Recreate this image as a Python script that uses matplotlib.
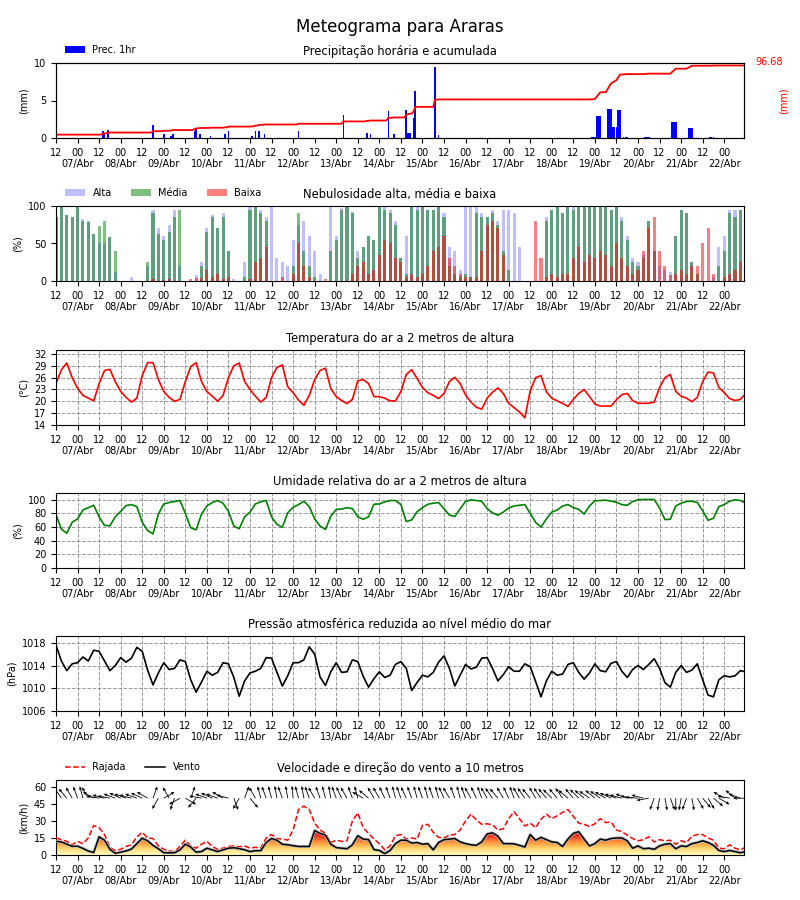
import numpy as np
import matplotlib
matplotlib.use('Agg')
import matplotlib.pyplot as plt
from matplotlib.lines import Line2D
import matplotlib.patheffects as pe

# ---------------- data (3-hourly, hours since 06/Abr 12:00) ----------------
horas = np.arange(0, 385, 3)

temperatura = [24.5, 28, 29.7, 26, 23.3, 21.5, 20.8, 20.1, 24.5, 27.8,
               28.1, 25, 22.5, 21, 19.8, 20.8, 26.5, 29.8, 29.8, 25.5,
               22.5, 21, 20, 20.5, 25, 28.8, 29.8, 25, 22.5, 21.3,
               20, 21.5, 26, 29, 29.7, 25, 23, 21.3, 19.8, 21,
               26, 28.6, 29.2, 23.7, 22.2, 20.3, 19, 21.5, 25.5, 27.8,
               28.4, 23.2, 21.2, 20.2, 19.4, 20.5, 25.2, 25.5, 24.5, 21.2,
               21.2, 20.8, 20.1, 20.1, 22.5, 26.8, 28, 25.8, 23.5, 22.2,
               21.5, 20.7, 22, 25, 26.1, 24.5, 21.6, 19.8, 18.5, 18,
               20.8, 22.3, 23.4, 22, 19.5, 18.4, 17.3, 15.8, 22.7, 26,
               26.5, 22.4, 20.8, 20.1, 19.5, 18.7, 20.5, 22, 23, 21.2,
               19.3, 18.8, 18.8, 18.8, 20.4, 21.7, 22, 20.2, 19.5, 19.5,
               19.5, 19.8, 23.5, 26, 26.8, 22.5, 21.3, 20.8, 19.9, 21,
               25, 27.4, 27.2, 23.5, 22.2, 20.7, 20.2, 20.5, 22]

umidade = [78, 57, 51, 67, 72, 85, 88.5, 92, 75, 62.5,
           62, 75, 83, 91.5, 93, 90, 67, 55, 50, 79,
           94, 96, 97.5, 99, 80, 59, 56, 79, 91, 96,
           99, 95, 83, 61.5, 57.5, 75, 82, 94, 97, 99,
           75, 64, 59.5, 81, 89, 93, 98, 90, 72, 61.5,
           56.5, 76, 86, 86.5, 88.5, 87, 75, 71.5, 75, 93.5,
           94, 97, 99, 99, 93, 68, 70.5, 82.5, 88.5, 93.5,
           95, 96, 87, 77.5, 75.5, 87, 97.5, 100, 99, 98,
           87, 81, 77.5, 82, 88, 91, 92, 93, 80, 67,
           60, 72, 82, 85, 91, 93, 88.5, 86, 79, 91,
           98.5, 99, 99.5, 98, 96.5, 93, 92, 97.5, 100, 100.5,
           100.5, 100.5, 88, 71, 71.5, 91, 95, 97.5, 98, 96,
           84, 70, 73, 90, 93, 98, 100, 99, 95]

pressao = [1017.6, 1014.8, 1013.1, 1014.3, 1014.5, 1015.5, 1014.8, 1016.7, 1016.5, 1014.8,
           1013.1, 1014, 1015.4, 1014.6, 1015.3, 1017.2, 1016.5, 1013.2, 1010.6, 1012.7,
           1014.5, 1013.3, 1013.5, 1015, 1014.7, 1011.5, 1009.3, 1011.1, 1013, 1012.3,
           1012.8, 1014.5, 1014.3, 1011.9, 1008.6, 1011.3, 1012.7, 1013, 1013.5, 1015.4,
           1015.3, 1012.8, 1010.4, 1012.2, 1014.5, 1014.5, 1015, 1017.3, 1016, 1012,
           1010.5, 1012.9, 1014.5, 1012.8, 1012.9, 1015, 1014.7, 1012.1, 1010.2, 1011.7,
           1012.9, 1011.9, 1012.3, 1014.2, 1014.7, 1013.5, 1009.6, 1011, 1012.3, 1012,
           1012.8, 1014.6, 1015.7, 1013.5, 1010.4, 1012.3, 1014.2, 1013.4, 1013.7, 1015.3,
           1015.4, 1013.5, 1011.3, 1012.4, 1013.8, 1013, 1013, 1014.3, 1013.8, 1011.2,
           1008.5, 1011.3, 1013, 1012.3, 1012.5, 1014.2, 1014.5, 1012.8, 1011.6, 1012.7,
           1014.3, 1013.1, 1012.9, 1014.4, 1014.7, 1013, 1011.9, 1013.3, 1014, 1013.3,
           1014.2, 1015.2, 1013.5, 1011, 1010.2, 1012.8, 1014, 1012.8, 1013.2, 1014.3,
           1011.5, 1008.8, 1008.5, 1011.5, 1012.2, 1012, 1012.2, 1013.1, 1012.9]

vento = [12, 11.5, 9.5, 7.6, 7.8, 5.8, 3.5, 2.2, 16, 13,
         5, 1.5, 2.5, 3.6, 5.2, 10, 14.8, 12.5, 8.5, 5.5,
         2, 2, 2, 4.5, 9.5, 7, 2.5, 3, 6, 4.5,
         3, 4.5, 6, 6.4, 5.6, 4.6, 3, 3.8, 3.8, 11,
         14.5, 13, 9.5, 9, 8.2, 7.5, 7.5, 7.5, 21.5, 19,
         17.5, 9.5, 6.5, 6, 5.5, 9, 17, 14, 13.5, 4.8,
         4, 1.2, 4, 10, 13, 13, 10.5, 11, 9.5, 10,
         4.5, 11, 13.5, 14, 14.5, 11.5, 10, 9, 8.5, 11.5,
         18.5, 19.5, 16.5, 10, 10, 9.8, 8.5, 7, 18, 13,
         15.5, 13.5, 11.5, 11, 7.5, 14, 19, 20.5, 14, 8,
         10, 14, 13, 14.5, 15, 15, 12.5, 6, 8, 5.5,
         6, 5, 8, 9.5, 10, 5.5, 8, 7.5, 10, 11,
         12.5, 11, 8.5, 4, 3, 4, 3, 2, 3]

rajada = [15, 13.5, 12, 9, 12, 10, 15, 26, 24, 18,
          6.5, 4, 5, 7.5, 9, 16, 20, 15, 14.5, 8,
          5, 3.5, 3, 7.5, 13, 8, 6, 9.5, 12, 7.5,
          5, 6, 7.5, 8, 7.2, 8, 6, 6.8, 6, 15,
          18, 14.5, 14, 13, 22, 40, 43, 40, 28, 22,
          19, 11, 13, 12, 12.5, 30, 37, 24, 19, 14,
          10, 4.5, 8, 17, 18, 14, 15, 14, 26, 27,
          20, 15.5, 15, 17.5, 18, 22, 30, 36, 31, 27,
          27.5, 26.5, 22, 23, 32, 38, 32, 25.5, 28, 24,
          31.5, 36, 32, 34.5, 37.5, 40, 34, 28, 27, 25,
          27.5, 32, 28.5, 29, 22, 20.5, 17.5, 14.5, 12.5, 13.5,
          16, 11.5, 13.5, 12.5, 13, 9.5, 12.5, 11, 16.5, 18,
          18, 15, 13, 6, 5.5, 9, 6, 4.5, 7]

# wind direction (meteorological, degrees the wind blows from)
direcao = [150, 145, 140, 150, 160, 165, 150, 120, 100, 105,
           100, 110, 115, 110, 105, 110, 115, 120, 200, 30,
           240, 150, 20, 60, 300, 200, 40, 100, 110, 115,
           110, 120, 105, 340, 30, 200, 320, 150, 165, 160,
           165, 170, 160, 170, 175, 165, 170, 160, 150, 160,
           165, 170, 160, 155, 150, 160, 165, 120, 130, 150,
           150, 155, 160, 165, 160, 155, 160, 165, 160, 165,
           160, 165, 155, 150, 160, 165, 160, 150, 155, 160,
           150, 145, 140, 150, 155, 160, 150, 145, 140, 150,
           145, 140, 135, 140, 145, 130, 140, 135, 130, 125,
           130, 125, 120, 115, 110, 105, 110, 100, 95, 105,
           80, 20, 10, 350, 340, 0, 10, 20, 350, 330,
           320, 330, 310, 300, 120, 100, 130, 110, 90]

nuvem_alta = [85, 100, 88, 85, 100, 83, 80, 62, 50, 50,
              58, 12, 0, 0, 5, 0, 0, 20, 95, 70,
              60, 75, 95, 20, 0, 0, 8, 25, 70, 88,
              70, 90, 40, 3, 0, 25, 98, 100, 95, 85,
              100, 30, 25, 20, 55, 75, 80, 60, 40, 10,
              0, 100, 60, 97, 100, 92, 40, 45, 60, 55,
              100, 98, 95, 80, 30, 60, 100, 100, 100, 95,
              95, 100, 90, 45, 40, 15, 100, 100, 100, 90,
              85, 95, 80, 95, 95, 90, 45, 0, 0, 0,
              0, 85, 95, 100, 90, 100, 100, 100, 100, 100,
              100, 100, 100, 95, 100, 85, 60, 30, 25, 35,
              80, 40, 20, 15, 12, 60, 95, 90, 25, 10,
              0, 0, 5, 45, 60, 95, 95, 95, 65]

nuvem_media = [85, 100, 88, 85, 100, 80, 78, 62, 73, 80,
               58, 40, 0, 0, 0, 0, 0, 25, 90, 62,
               55, 65, 85, 95, 0, 0, 0, 20, 65, 85,
               70, 85, 40, 0, 0, 5, 95, 100, 90, 80,
               0, 0, 0, 0, 20, 90, 40, 20, 5, 0,
               0, 40, 55, 95, 98, 90, 30, 45, 60, 55,
               100, 95, 90, 75, 30, 10, 100, 95, 100, 95,
               95, 100, 85, 20, 10, 5, 10, 5, 90, 85,
               85, 90, 75, 40, 15, 0, 0, 0, 0, 0,
               0, 80, 95, 100, 90, 100, 95, 100, 100, 100,
               100, 100, 100, 95, 100, 80, 55, 25, 20, 30,
               80, 40, 0, 0, 0, 60, 95, 90, 25, 10,
               0, 0, 0, 20, 40, 90, 85, 95, 60]

nuvem_baixa = [0, 0, 0, 0, 0, 0, 0, 0, 0, 0,
               0, 0, 0, 0, 0, 0, 0, 0, 3, 0,
               2, 3, 0, 0, 0, 3, 4, 4, 15, 5,
               10, 3, 5, 0, 0, 0, 3, 25, 30, 45,
               0, 0, 5, 0, 10, 50, 20, 5, 0, 0,
               3, 0, 0, 0, 0, 10, 20, 25, 10, 15,
               35, 55, 50, 30, 25, 5, 10, 5, 10, 20,
               40, 45, 60, 30, 20, 10, 5, 5, 5, 40,
               75, 80, 70, 35, 0, 0, 0, 0, 0, 80,
               30, 5, 10, 5, 10, 10, 30, 45, 25, 35,
               30, 40, 35, 20, 50, 30, 20, 10, 15, 40,
               70, 85, 40, 20, 8, 10, 15, 10, 20, 20,
               50, 70, 10, 0, 5, 10, 15, 25, 15]

# hourly precipitation events (hour since 06/Abr 12:00, mm)
prec_hora = [26, 27, 29, 54, 60, 64, 65, 77, 78, 80, 86, 94, 96,
             109, 111, 113, 116, 135, 160, 173, 175, 185, 188,
             195, 196, 197, 199, 200, 211, 213,
             298, 299, 300, 301, 302, 303, 307, 308, 309, 310, 311, 312,
             313, 314, 316, 317, 318, 328, 329, 330, 343, 344, 345,
             352, 353, 354, 364, 365, 366]
prec_mm = [1.0, 0.7, 1.1, 1.8, 0.6, 0.3, 0.6, 1.0, 1.2, 0.6, 0.3, 0.5, 1.0,
           0.3, 1.0, 1.0, 0.5, 1.0, 3.1, 0.7, 0.5, 3.6, 0.5,
           3.7, 0.7, 0.7, 2.7, 6.3, 9.5, 0.4,
           0.2, 0.2, 0.2, 3.0, 3.0, 3.0, 3.9, 3.9, 3.9, 1.5, 1.5, 1.5,
           3.7, 3.7, 0.2, 0.2, 0.2, 0.2, 0.2, 0.2, 2.2, 2.2, 2.2,
           1.3, 1.3, 1.3, 0.13, 0.13, 0.12]
prec_acum_inicial = 4.5

dias = ['%02d/Abr' % d for d in range(7, 23)]

# ---------------- figure ----------------
plt.rcParams['font.family'] = ['DejaVu Sans']
fig = plt.figure(figsize=(8, 9), dpi=100)
fig.text(0.5, 1 - 27 / 900, 'Meteograma para Araras', ha='center', va='center', fontsize=12)

W, H = 800.0, 900.0
x0, x1 = 56, 744
tops = [63, 206, 350, 493, 636, 780]
hpx = 75
axes = [fig.add_axes([x0 / W, 1 - (t + hpx) / H, (x1 - x0) / W, hpx / H]) for t in tops]

tick_pos = np.arange(0, 383, 12)
tick_lab = ['12' if i % 2 == 0 else '00\n' + dias[i // 2] for i in range(len(tick_pos))]

TFS = 8.3
LFS = 7
LEG_Y = 1.03
for ax in axes:
    ax.set_xlim(0, 383)
    ax.set_xticks(tick_pos)
    ax.set_xticklabels(tick_lab, fontsize=LFS)
    ax.tick_params(axis='y', labelsize=LFS)


def grid_on(ax):
    ax.grid(True, linestyle='--', color='gray', linewidth=0.7, alpha=0.8)
    ax.set_axisbelow(True)


# 1) precipitation
ax = axes[0]
ax.bar(prec_hora, prec_mm, width=0.9, color='blue', label='Prec. 1hr', zorder=2)
ax.set_ylim(0, 10)
ax.set_yticks([0, 5, 10])
ax.set_ylabel('(mm)', fontsize=LFS)
ax.set_title('Precipitação horária e acumulada', fontsize=TFS)
ax.legend(loc='lower left', bbox_to_anchor=(0.005, LEG_Y), frameon=False, fontsize=LFS,
          borderaxespad=0.2)
horas_1h = np.arange(0, 385)
prec_1h = np.zeros(len(horas_1h))
prec_1h[prec_hora] = prec_mm
acum = prec_acum_inicial + np.cumsum(prec_1h)
ax2 = ax.twinx()
ax2.plot(horas_1h, acum, color='red', lw=1.3)
ax2.set_ylim(0, 100)
ax2.set_yticks([])
ax2.set_xlim(0, 383)
ax.text(1.057, 0.5, '(mm)', transform=ax.transAxes, rotation=90, color='red',
        ha='center', va='center', fontsize=LFS)
ax.text(1.036, 1.013, '%.2f' % acum[-1], transform=ax.transAxes, color='red',
        ha='center', va='center', fontsize=LFS)

# 2) clouds
ax = axes[1]
BW = 1.7
ax.bar(horas, nuvem_alta, width=BW, color='blue', alpha=0.25, label='Alta', linewidth=0)
ax.bar(horas, nuvem_media, width=BW, color='green', alpha=0.5, label='Média', linewidth=0)
ax.bar(horas, nuvem_baixa, width=BW, color='red', alpha=0.5, label='Baixa', linewidth=0)
ax.set_ylim(0, 100)
ax.set_yticks([0, 50, 100])
ax.set_ylabel('(%)', fontsize=LFS)
ax.set_title('Nebulosidade alta, média e baixa', fontsize=TFS)
ax.legend(loc='lower left', bbox_to_anchor=(0.005, LEG_Y), frameon=False, fontsize=LFS,
          ncol=3, borderaxespad=0.2)

# 3) temperature
ax = axes[2]
ax.plot(horas, temperatura, color='red', lw=1.2)
ax.set_ylim(14, 33)
ax.set_yticks(np.arange(14, 33, 3))
ax.set_ylabel('(°C)', fontsize=LFS)
ax.set_title('Temperatura do ar a 2 metros de altura', fontsize=TFS)
grid_on(ax)

# 4) humidity
ax = axes[3]
ax.plot(horas, umidade, color='green', lw=1.2)
ax.set_ylim(0, 110)
ax.set_yticks(np.arange(0, 101, 20))
ax.set_ylabel('(%)', fontsize=LFS)
ax.set_title('Umidade relativa do ar a 2 metros de altura', fontsize=TFS)
grid_on(ax)

# 5) pressure
ax = axes[4]
ax.plot(horas, pressao, color='black', lw=1.2)
ax.set_ylim(1006, 1019.2)
ax.set_yticks([1006, 1010, 1014, 1018])
ax.set_ylabel('(hPa)', fontsize=LFS)
ax.set_title('Pressão atmosférica reduzida ao nível médio do mar', fontsize=TFS)
grid_on(ax)

# 6) wind
ax = axes[5]
fill = ax.fill_between(horas, 0, vento, color='none', linewidth=0)
grad = np.linspace(0, 1, 256).reshape(-1, 1)
im = ax.imshow(grad, extent=[0, 384, 0, 24], origin='lower', aspect='auto',
               cmap='YlOrRd', vmin=-0.03, vmax=1.0, zorder=1)
im.set_clip_path(fill.get_paths()[0], transform=ax.transData)
ax.plot(horas, rajada, color='red', lw=1.1, ls='--', zorder=3)
ax.plot(horas, vento, color='black', lw=1.1, zorder=4,
        path_effects=[pe.Stroke(linewidth=2.2, foreground='#bbbbbb'), pe.Normal()])
dr = np.deg2rad(np.array(direcao, dtype=float))
u = -np.sin(dr)
v = -np.cos(dr)
ax.quiver(horas, np.full(len(horas), 50.0), u, v, angles='uv', scale_units='inches',
          scale=1 / 0.125, width=0.0012, headwidth=4, headlength=4.5, headaxislength=4,
          color='black', zorder=5)
ax.set_xlim(0, 383)
ax.set_ylim(0, 66)
ax.set_yticks([0, 15, 30, 45, 60])
ax.set_ylabel('(km/h)', fontsize=LFS)
ax.set_title('Velocidade e direção do vento a 10 metros', fontsize=TFS)
handles = [Line2D([], [], color='red', ls='--', lw=1.1, label='Rajada'),
           Line2D([], [], color='black', lw=1.1, label='Vento')]
ax.legend(handles=handles, loc='lower left', bbox_to_anchor=(0.005, LEG_Y), frameon=False,
          fontsize=LFS, ncol=2, borderaxespad=0.2)

fig.savefig('out.png', dpi=100)
